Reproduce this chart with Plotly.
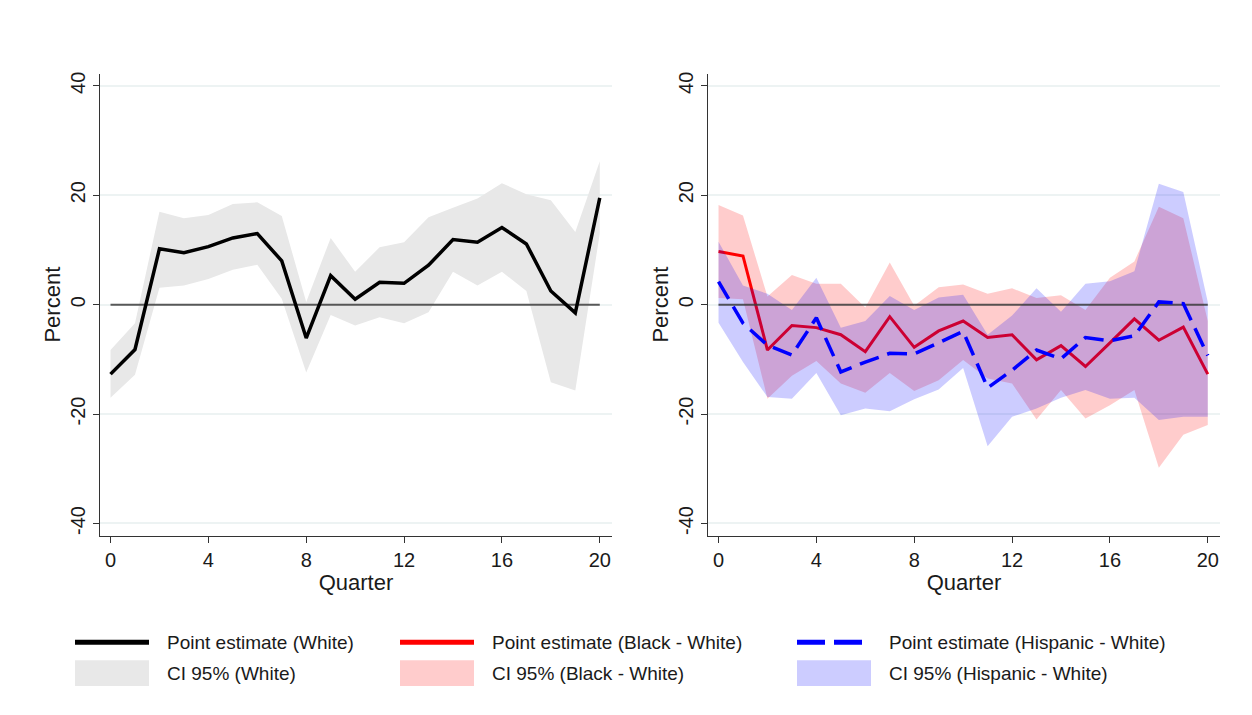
import plotly.graph_objects as go

quarters = list(range(21))

white_est = [-12.7, -8.2, 10.2, 9.5, 10.6, 12.2, 13.0, 8.0, -6.1, 5.3, 1.0, 4.1, 3.9, 7.2, 11.9, 11.4, 14.1, 11.1, 2.5, -1.5, 19.5]
white_hi = [-8.3, -3.4, 17.0, 15.8, 16.4, 18.4, 18.7, 16.2, 0.5, 12.2, 6.0, 10.5, 11.4, 16.0, 17.7, 19.4, 22.2, 20.2, 19.1, 13.3, 26.2]
white_lo = [-17.0, -12.8, 3.1, 3.5, 4.7, 6.4, 7.3, 1.1, -12.4, -1.9, -3.8, -2.3, -3.4, -1.4, 6.0, 3.5, 6.0, 2.5, -14.2, -15.7, 13.0]

black_est = [9.7, 8.9, -8.3, -3.8, -4.2, -5.5, -8.6, -2.2, -7.8, -4.8, -3.0, -6.0, -5.5, -10.1, -7.5, -11.3, -7.0, -2.6, -6.5, -4.1, -12.7]
black_hi = [18.2, 16.3, 1.5, 5.4, 3.8, 3.8, -0.5, 7.7, -0.2, 3.2, 3.7, 2.0, 3.0, 1.2, 1.7, -1.0, 4.9, 7.9, 17.9, 15.8, -3.0]
black_lo = [1.2, 1.0, -17.2, -13.0, -10.3, -14.4, -16.1, -12.5, -15.8, -13.8, -10.1, -13.5, -14.4, -21.0, -15.6, -20.8, -18.4, -15.6, -29.8, -23.8, -22.0]

hisp_est = [4.2, -3.4, -7.4, -9.2, -2.4, -12.3, -10.5, -8.9, -9.0, -6.9, -4.9, -15.2, -12.0, -8.3, -9.9, -6.0, -6.6, -5.7, 0.5, 0.2, -9.3]
hisp_hi = [11.5, 3.5, 2.0, -1.0, 4.9, -4.2, -3.0, 1.6, -1.0, 1.3, 1.8, -5.5, -2.0, 3.0, -1.3, 3.8, 4.3, 6.1, 22.1, 20.6, 0.5]
hisp_lo = [-3.3, -10.5, -16.9, -17.2, -12.5, -20.2, -19.0, -19.5, -17.3, -15.5, -11.6, -25.9, -20.5, -19.0, -17.0, -15.6, -17.2, -17.0, -21.1, -20.5, -20.5]

y_ticks = [-40, -20, 0, 20, 40]
y_tick_text = ["-40", "-20", "0", "20", "40"]
x_ticks = [0, 4, 8, 12, 16, 20]

legend_labels = [
    "Point estimate (White)", "Point estimate (Black - White)", "Point estimate (Hispanic - White)",
    "CI 95% (White)", "CI 95% (Black - White)", "CI 95% (Hispanic - White)",
]

W, H = 1252, 715
FONT = "Liberation Sans, Arial, sans-serif"
TXT = "#1a1a1a"

GRAY_BAND = "#e8e8e8"
PINK_BAND = "rgba(255,0,0,0.2)"
BLUE_BAND = "rgba(0,0,255,0.2)"

fig = go.Figure()


def band(x, lo, hi, color, xa, ya, name):
    fig.add_trace(go.Scatter(
        x=list(x) + list(x)[::-1], y=list(hi) + list(lo)[::-1],
        fill="toself", fillcolor=color, line=dict(width=0),
        mode="lines", name=name, showlegend=False, hoverinfo="skip",
        xaxis=xa, yaxis=ya))


def zero_line(xa, ya):
    fig.add_trace(go.Scatter(
        x=[quarters[0], quarters[-1]], y=[0, 0], mode="lines",
        line=dict(color="rgba(60,60,60,0.85)", width=2),
        showlegend=False, hoverinfo="skip", xaxis=xa, yaxis=ya))


# Left panel
band(quarters, white_lo, white_hi, GRAY_BAND, "x", "y", legend_labels[3])
zero_line("x", "y")
fig.add_trace(go.Scatter(x=quarters, y=white_est, mode="lines",
                         line=dict(color="black", width=3.5),
                         name=legend_labels[0], showlegend=False, xaxis="x", yaxis="y"))

# Right panel
band(quarters, black_lo, black_hi, PINK_BAND, "x2", "y2", legend_labels[4])
fig.add_trace(go.Scatter(x=quarters, y=black_est, mode="lines",
                         line=dict(color="#ff0000", width=3),
                         name=legend_labels[1], showlegend=False, xaxis="x2", yaxis="y2"))
band(quarters, hisp_lo, hisp_hi, BLUE_BAND, "x2", "y2", legend_labels[5])
zero_line("x2", "y2")
fig.add_trace(go.Scatter(x=quarters, y=hisp_est, mode="lines",
                         line=dict(color="#0000ff", width=3.5, dash="20px,9px"),
                         name=legend_labels[2], showlegend=False, xaxis="x2", yaxis="y2"))

axis_common = dict(
    showline=True, linecolor="#333333", linewidth=1,
    ticks="outside", ticklen=6, tickcolor="#333333",
    tickfont=dict(family=FONT, size=20, color=TXT),
    zeroline=False,
)
title_font = dict(family=FONT, size=22, color=TXT)

xr = [-0.43, 20.5]
yr = [-42.2, 42.2]
ydom = [1 - 535 / H, 1 - 72 / H]

fig.update_layout(
    width=W, height=H,
    paper_bgcolor="white", plot_bgcolor="white",
    margin=dict(l=0, r=0, t=0, b=0),
    showlegend=False,
    xaxis=dict(domain=[100 / W, 612 / W], range=xr, tickvals=x_ticks, showgrid=False,
               title=dict(text="Quarter", font=title_font, standoff=0),
               anchor="y", **axis_common),
    yaxis=dict(domain=ydom, range=yr, tickvals=y_ticks, ticktext=y_tick_text, tickangle=-90,
               showgrid=True, gridcolor="#edf3f3", gridwidth=1.5,
               title=dict(text="Percent", font=title_font, standoff=0),
               anchor="x", **axis_common),
    xaxis2=dict(domain=[708 / W, 1220 / W], range=xr, tickvals=x_ticks, showgrid=False,
                title=dict(text="Quarter", font=title_font, standoff=0),
                anchor="y2", **axis_common),
    yaxis2=dict(domain=ydom, range=yr, tickvals=y_ticks, ticktext=y_tick_text, tickangle=-90,
                showgrid=True, gridcolor="#edf3f3", gridwidth=1.5,
                title=dict(text="Percent", font=title_font, standoff=0),
                anchor="x2", **axis_common),
)

# Manual legend (2 rows x 3 columns)
col_sym_x = [75, 400, 797]
col_txt_x = [165, 490, 887]
row1_y = 642
row2_top, row2_bot = 660, 686
row2_y = 673

line_styles = [
    dict(color="black", width=5, dash="solid"),
    dict(color="#ff0000", width=5, dash="solid"),
    dict(color="#0000ff", width=5, dash="28px,9px"),
]
rect_colors = [GRAY_BAND, "#ffcccc", "#ccccff"]

shapes = []
annotations = []
for i in range(3):
    x0 = col_sym_x[i] / W
    x1 = (col_sym_x[i] + 74) / W
    shapes.append(dict(type="line", xref="paper", yref="paper",
                       x0=x0, x1=x1, y0=1 - row1_y / H, y1=1 - row1_y / H,
                       line=line_styles[i]))
    shapes.append(dict(type="rect", xref="paper", yref="paper",
                       x0=x0, x1=x1, y0=1 - row2_bot / H, y1=1 - row2_top / H,
                       fillcolor=rect_colors[i], line=dict(width=0)))
    annotations.append(dict(xref="paper", yref="paper", x=col_txt_x[i] / W, y=1 - row1_y / H,
                            xanchor="left", yanchor="middle", showarrow=False,
                            text=legend_labels[i],
                            font=dict(family=FONT, size=19, color=TXT)))
    annotations.append(dict(xref="paper", yref="paper", x=col_txt_x[i] / W, y=1 - row2_y / H,
                            xanchor="left", yanchor="middle", showarrow=False,
                            text=legend_labels[i + 3],
                            font=dict(family=FONT, size=19, color=TXT)))

fig.update_layout(shapes=shapes, annotations=annotations)

fig.write_html("out.html")
